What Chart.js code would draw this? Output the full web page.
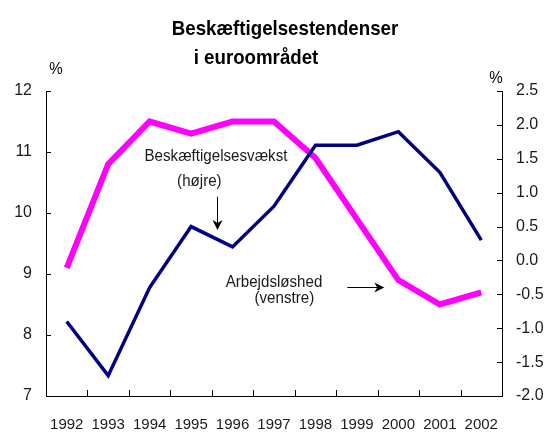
<!DOCTYPE html>
<html>
<head>
<meta charset="utf-8">
<script src="https://cdn.jsdelivr.net/npm/chart.js@4/dist/chart.umd.min.js"></script>
<style>
  html, body { margin: 0; padding: 0; background: #fff; }
  #wrap { position: relative; width: 546px; height: 432px; }
  canvas { display: block; }
</style>
</head>
<body>
<div id="wrap"><canvas id="c" width="546" height="432"></canvas></div>
<script>
// ---- Data ----
const years = ['1992','1993','1994','1995','1996','1997','1998','1999','2000','2001','2002'];
// Employment growth, % (right axis)
const employmentGrowth = [-0.9, -1.7, -0.4, 0.5, 0.2, 0.8, 1.7, 1.7, 1.9, 1.3, 0.3];
// Unemployment rate, % (left axis)
const unemployment = [9.1, 10.8, 11.5, 11.3, 11.5, 11.5, 10.9, 9.9, 8.9, 8.5, 8.7];
const leftTicks = [7, 8, 9, 10, 11, 12];
const rightTicks = [-2.0, -1.5, -1.0, -0.5, 0.0, 0.5, 1.0, 1.5, 2.0, 2.5];

const titleLines = ['Beskæftigelsestendenser', 'i euroområdet'];
const employmentLabel = ['Beskæftigelsesvækst', '(højre)'];
const unemploymentLabel = ['Arbejdsløshed', '(venstre)'];

const FONT = "'Liberation Sans Narrow', 'Arial Narrow', 'Liberation Sans', Arial, sans-serif";
const SQUEEZE = 0.89; // emulate a narrow face

function narrowText(ctx, text, cx, cy) {
  ctx.save();
  ctx.translate(cx, cy);
  ctx.scale(SQUEEZE, 1);
  ctx.fillText(text, 0, 0);
  ctx.restore();
}

const decorPlugin = {
  id: 'decor',
  afterDraw(chart) {
    const ctx = chart.ctx;
    const x = chart.scales.x, yL = chart.scales.y, yR = chart.scales.y1;
    const area = chart.chartArea;
    ctx.save();
    ctx.strokeStyle = '#000';
    ctx.lineWidth = 1;
    // inward tick marks
    ctx.beginPath();
    leftTicks.forEach(v => {
      const py = Math.round(yL.getPixelForValue(v)) + 0.5;
      ctx.moveTo(area.left, py); ctx.lineTo(area.left + 5, py);
    });
    rightTicks.forEach(v => {
      const py = Math.round(yR.getPixelForValue(v)) + 0.5;
      ctx.moveTo(area.right, py); ctx.lineTo(area.right - 5, py);
    });
    for (let i = 0; i < years.length - 1; i++) {
      const px = Math.round(x.getPixelForValue(i + 0.5)) + 0.5;
      ctx.moveTo(px, area.bottom); ctx.lineTo(px, area.bottom - 6);
    }
    ctx.stroke();

    // Title
    ctx.fillStyle = '#000';
    ctx.textBaseline = 'alphabetic';
    ctx.textAlign = 'center';
    ctx.font = "bold 21px " + FONT;
    narrowText(ctx, titleLines[0], 285, 35);
    narrowText(ctx, titleLines[1], 256, 64);

    // % units
    ctx.font = "17px " + FONT;
    narrowText(ctx, '%', 56, 74);
    narrowText(ctx, '%', 496, 83);

    // Annotations (anchored through the scales)
    ctx.font = "17px " + FONT;
    ctx.fillStyle = '#1a1a1a';
    ctx.textBaseline = 'middle';
    narrowText(ctx, employmentLabel[0], x.getPixelForValue(3.6), yR.getPixelForValue(1.53));
    narrowText(ctx, employmentLabel[1], x.getPixelForValue(3.2), yR.getPixelForValue(1.17));
    narrowText(ctx, unemploymentLabel[0], x.getPixelForValue(5.0), yL.getPixelForValue(8.86));
    narrowText(ctx, unemploymentLabel[1], x.getPixelForValue(5.25), yL.getPixelForValue(8.60));

    // vertical arrow
    ctx.fillStyle = '#000';
    const ax = Math.round(x.getPixelForValue(3.63)) + 0.5;
    const ay1 = yR.getPixelForValue(0.94), ay2 = yR.getPixelForValue(0.45);
    ctx.beginPath(); ctx.moveTo(ax, ay1); ctx.lineTo(ax, ay2 - 6); ctx.stroke();
    ctx.beginPath(); ctx.moveTo(ax - 5, ay2 - 10); ctx.lineTo(ax, ay2); ctx.lineTo(ax + 5, ay2 - 10); ctx.lineTo(ax, ay2 - 7); ctx.closePath(); ctx.fill();
    // horizontal arrow
    const hy = Math.round(yL.getPixelForValue(8.79)) + 0.5;
    const hx1 = x.getPixelForValue(6.77), hx2 = x.getPixelForValue(7.66);
    ctx.beginPath(); ctx.moveTo(hx1, hy); ctx.lineTo(hx2 - 6, hy); ctx.stroke();
    ctx.beginPath(); ctx.moveTo(hx2 - 10, hy - 5); ctx.lineTo(hx2, hy); ctx.lineTo(hx2 - 10, hy + 5); ctx.lineTo(hx2 - 7, hy); ctx.closePath(); ctx.fill();
    ctx.restore();
  }
};

new Chart(document.getElementById('c'), {
  type: 'line',
  data: {
    labels: years,
    datasets: [
      {
        label: 'Beskæftigelsesvækst (højre)',
        data: employmentGrowth,
        yAxisID: 'y1',
        borderColor: '#000080',
        borderWidth: 3.5,
        pointRadius: 0,
        tension: 0,
        borderJoinStyle: 'miter',
        fill: false
      },
      {
        label: 'Arbejdsløshed (venstre)',
        data: unemployment,
        yAxisID: 'y',
        borderColor: '#ff00ff',
        borderWidth: 6,
        pointRadius: 0,
        tension: 0,
        borderJoinStyle: 'miter',
        fill: false
      }
    ]
  },
  options: {
    responsive: false,
    animation: false,
    devicePixelRatio: 1,
    layout: { padding: { top: 91, left: 0, right: 0, bottom: 0 } },
    plugins: { legend: { display: false }, title: { display: false }, tooltip: { enabled: false } },
    scales: {
      x: {
        type: 'category',
        offset: true,
        grid: { display: true, drawOnChartArea: false, drawTicks: false, offset: true },
        border: { display: true, color: '#000', width: 1 },
        ticks: { color: '#1a1a1a', font: { family: FONT, size: 15 }, padding: 20, maxRotation: 0, autoSkip: false },
        afterFit(s) { s.height = 36; }
      },
      y: {
        position: 'left',
        min: 7, max: 12,
        grid: { display: true, drawOnChartArea: false, drawTicks: false },
        border: { display: true, color: '#000', width: 1 },
        ticks: { stepSize: 1, color: '#1a1a1a', font: { family: FONT, size: 16 }, padding: 14,
                 callback: v => leftTicks.includes(v) ? String(v) : null },
        afterFit(s) { s.width = 46; }
      },
      y1: {
        position: 'right',
        min: -2, max: 2.5,
        grid: { display: true, drawOnChartArea: false, drawTicks: false },
        border: { display: true, color: '#000', width: 1 },
        ticks: { stepSize: 0.5, color: '#1a1a1a', font: { family: FONT, size: 16 }, padding: 14,
                 callback: v => v.toFixed(1) },
        afterFit(s) { s.width = 44; }
      }
    }
  },
  plugins: [decorPlugin]
});
</script>
</body>
</html>
